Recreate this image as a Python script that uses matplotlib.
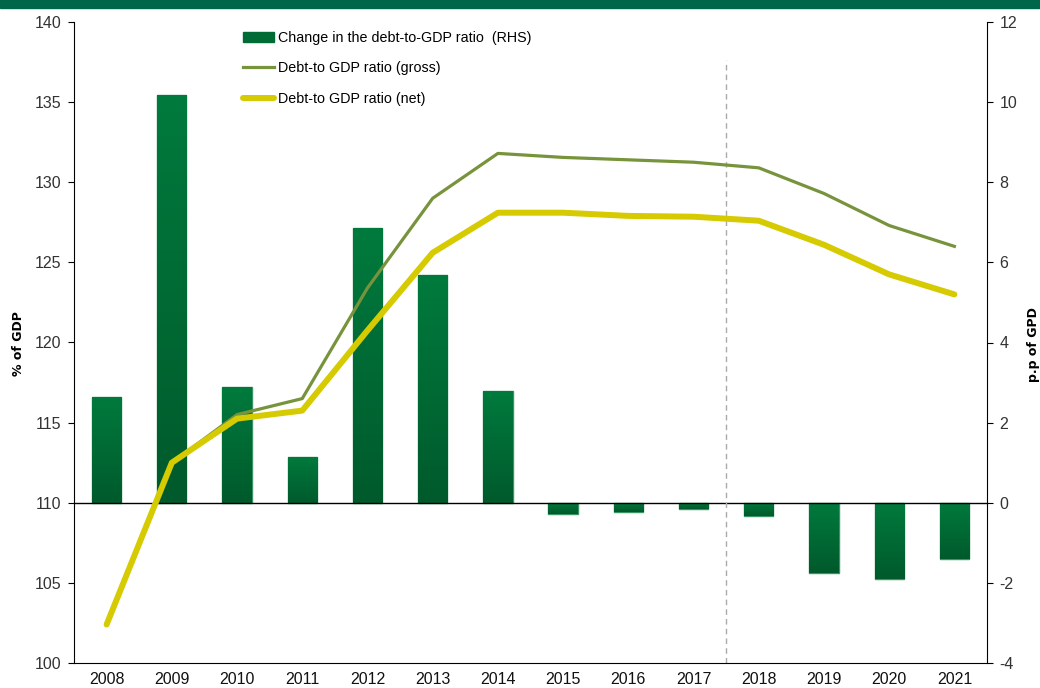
import numpy as np
import matplotlib
matplotlib.use('Agg')
import matplotlib.pyplot as plt
from matplotlib.patches import Rectangle, Patch
from matplotlib.lines import Line2D

plt.rcParams['font.family'] = ['Liberation Sans Narrow', 'Liberation Sans', 'DejaVu Sans']
plt.rcParams['axes.unicode_minus'] = False

years = ['2008', '2009', '2010', '2011', '2012', '2013', '2014',
         '2015', '2016', '2017', '2018', '2019', '2020', '2021']
change_rhs = [2.65, 10.18, 2.88, 1.13, 6.85, 5.68, 2.78,
              -0.28, -0.23, -0.15, -0.33, -1.75, -1.9, -1.4]
gross = [102.4, 112.5, 115.5, 116.5, 123.4, 129.0, 131.8,
         131.55, 131.4, 131.25, 130.9, 129.3, 127.3, 126.0]
net = [102.4, 112.5, 115.25, 115.75, 120.75, 125.6, 128.1,
       128.1, 127.9, 127.85, 127.6, 126.1, 124.25, 123.0]
forecast_split = 9.5  # between 2017 and 2018

C_BAR = '#006B35'
C_GROSS = '#77933C'
C_NET = '#D6CA00'
C_TXT = '#333333'

fig = plt.figure(figsize=(10.4, 6.88), dpi=100)
fig.patches.append(Rectangle((0, 1 - 8 / 688), 1, 8 / 688, transform=fig.transFigure,
                             color='#00664A', zorder=0))

ax = fig.add_axes([74 / 1040, 25 / 688, 913 / 1040, 641 / 688])
ax2 = ax.twinx()
ax.set_zorder(ax2.get_zorder() + 1)
ax.patch.set_visible(False)

x = np.arange(len(years))

# bars with vertical gradient (lighter on top)
bars = ax2.bar(x, change_rhs, width=0.45, color=C_BAR, edgecolor='#3A9464', linewidth=1.0, zorder=2)
grad = np.linspace(0, 1, 100).reshape(-1, 1)
cmap = matplotlib.colors.LinearSegmentedColormap.from_list('g', ['#005A2C', '#007A3D'])
for b in bars:
    x0, y0 = b.get_x(), b.get_y()
    w, h = b.get_width(), b.get_height()
    lo, hi = min(y0, y0 + h), max(y0, y0 + h)
    im = ax2.imshow(grad, cmap=cmap, aspect='auto', origin='lower',
                    extent=[x0, x0 + w, lo, hi], zorder=2.5)
    im.set_clip_path(b)

ax2.set_ylim(-4, 12)
ax2.set_yticks(range(-4, 13, 2))
ax2.set_xlim(-0.5, len(years) - 0.5)
ax2.spines['bottom'].set_position(('data', 0))
ax2.spines['bottom'].set_linewidth(1.0)
ax2.spines['bottom'].set_zorder(3)
ax2.set_xticks(np.arange(-0.5, len(years), 1.0))
ax2.tick_params(axis='x', direction='out', length=4, labelbottom=False, color='#222222')
ax2.tick_params(axis='y', direction='out', length=4, labelsize=11.5, labelcolor=C_TXT, pad=5)
for s in ['top', 'left']:
    ax2.spines[s].set_visible(False)

ax.plot(x, gross, color=C_GROSS, lw=2.3, zorder=4)
ax.plot(x, net, color=C_NET, lw=4.3, zorder=5, solid_capstyle='round')
ax.axvline(forecast_split, ymin=0, ymax=1 - 38 / 641,
           color='#AAAAAA', ls=(0, (4, 3)), lw=1, zorder=1)
ax.set_ylim(100, 140)
ax.set_yticks(range(100, 141, 5))
ax.set_xlim(-0.5, len(years) - 0.5)
ax.set_xticks(x)
ax.set_xticklabels(years)
ax.tick_params(axis='x', length=0, labelsize=11.5, labelcolor='#111111', pad=6.5)
ax.tick_params(axis='y', direction='out', length=4, labelsize=11.5, labelcolor=C_TXT, pad=5)
ax.spines['top'].set_visible(False)
ax.spines['right'].set_visible(False)
ax2.spines['right'].set_visible(True)

handles = [Patch(facecolor=C_BAR, edgecolor=C_BAR),
           Line2D([], [], color=C_GROSS, lw=2.3),
           Line2D([], [], color=C_NET, lw=4.3, solid_capstyle='round')]
labels = ['Change in the debt-to-GDP ratio  (RHS)', 'Debt-to GDP ratio (gross)', 'Debt-to GDP ratio (net)']
ax.legend(handles, labels, loc='upper left', bbox_to_anchor=(230 / 1040, 1 - 18 / 688),
          bbox_transform=fig.transFigure, frameon=False, fontsize=10.3,
          handlelength=2.2, handleheight=0.7, handletextpad=0.25, labelspacing=1.15)

fig.text(18 / 1040, 344 / 688, '% of GDP', rotation=90, ha='center', va='center',
         fontsize=9, fontweight='bold', family=['DejaVu Sans'])
fig.text(1033 / 1040, 343 / 688, 'p.p of GPD', rotation=90, ha='center', va='center',
         fontsize=9, fontweight='bold', family=['DejaVu Sans'])

fig.savefig('out.png', dpi=100, facecolor='white')
